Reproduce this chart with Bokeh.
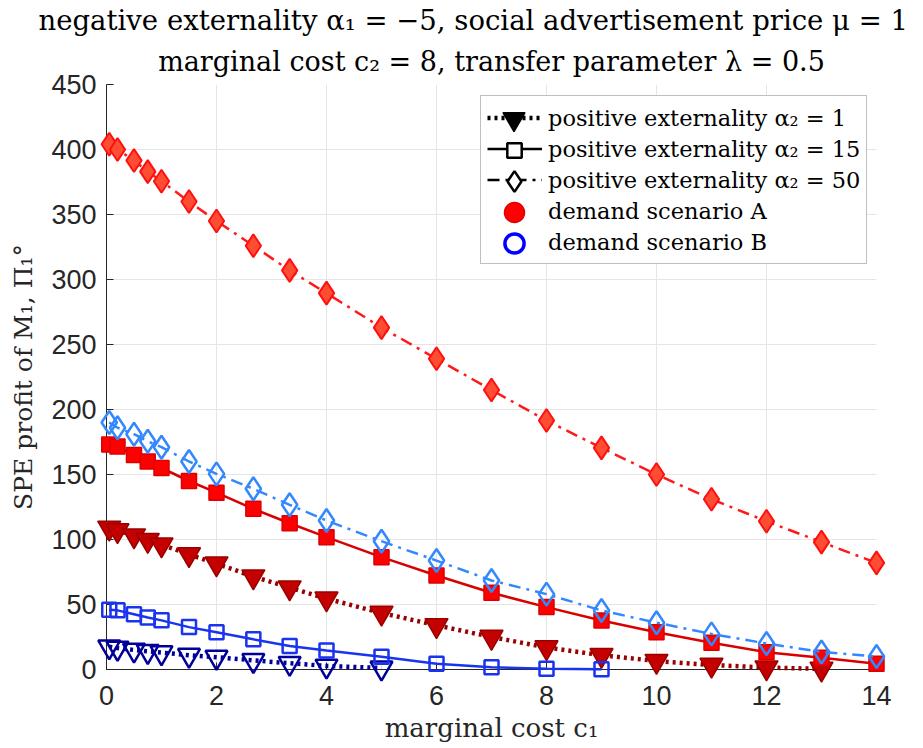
import numpy as np
from bokeh.plotting import figure
from bokeh.models import Legend, LegendItem, FixedTicker, Title, Range1d, ColumnDataSource
from bokeh.embed import file_html
from bokeh.resources import INLINE

# ---------------- data ----------------
c1 = [0.05, 0.2, 0.5, 0.75, 1, 1.5, 2, 2.67, 3.33, 4, 5, 6, 7, 8, 9, 10, 11, 12, 13, 14]

# demand scenario A
A_alpha1 = [109, 107, 103, 99.5, 96, 88.5, 81.5, 71.5, 63, 54.5, 43.5, 34, 25, 17, 11, 6.5, 3.5, 1.5, 0.5]
A_alpha15 = [173, 171.5, 165, 160, 155, 145, 136, 123.6, 112.5, 101.8, 86.4, 72.3, 59, 48, 37.7, 28.7,
             20.5, 13.3, 9, 4.4]
A_alpha50 = [404, 400, 391.5, 383, 375.6, 360, 345, 326, 307, 289.5, 263, 239, 215, 191.5, 170.5, 150,
             131, 114, 98, 82]
# demand scenario B
B_alpha1 = [17.5, 16.5, 15, 14, 13, 11, 9.5, 7, 4.8, 2.7, 1.2]
B_alpha15 = [46, 45.5, 42.5, 40, 37.8, 32.6, 28.7, 23.2, 18, 14.6, 9.8, 4.4, 1.8, 0.5, 0.1]
B_alpha50 = [190, 186, 181, 175.6, 171, 160, 150.5, 139, 126.7, 114.6, 98.7, 83.8, 68.5, 58, 45.4, 36,
             27.4, 20, 13.5, 10]

x_ticks = [0, 2, 4, 6, 8, 10, 12, 14]
y_ticks = [0, 50, 100, 150, 200, 250, 300, 350, 400, 450]

title_line1 = "negative externality α₁ = −5, social advertisement price μ = 1"
title_line2 = "marginal cost c₂ = 8, transfer parameter λ = 0.5"
x_label = "marginal cost c₁"
y_label = "SPE profit of M₁, Π₁°"
legend_labels = ["positive externality α₂ = 1", "positive externality α₂ = 15",
                 "positive externality α₂ = 50", "demand scenario A", "demand scenario B"]

SERIF = "DejaVu Serif"
SANS = "Liberation Sans"
AX = "#262626"

FRAME_W, FRAME_H = 770, 585
p = figure(width=920, height=746, x_range=Range1d(0, 14), y_range=Range1d(0, 450),
           output_backend="svg", toolbar_location=None,
           min_border_left=106, min_border_right=44, min_border_top=84, min_border_bottom=77,
           title=title_line1)
p.outline_line_color = None
p.background_fill_color = "white"

# outer title line
p.title.align = "left"
p.title.offset = -68
p.title.text_font = SERIF
p.title.text_font_size = "27.5px"
p.title.text_font_style = "normal"
p.title.text_color = "black"
p.title.standoff = 0

# inner title line (closer to the frame)
t2 = Title(text=title_line2, align="center", text_font=SERIF, text_font_size="27px",
           text_font_style="normal", text_color="black", standoff=16)
p.add_layout(t2, "above")

# axes
for ax in (p.xaxis, p.yaxis):
    ax.axis_line_color = AX
    ax.axis_line_width = 1
    ax.major_tick_line_color = AX
    ax.major_tick_in = 7
    ax.major_tick_out = 0
    ax.minor_tick_line_color = None
    ax.major_label_text_font = SANS
    ax.major_label_text_font_size = "27px"
    ax.major_label_text_color = AX
    ax.axis_label_text_font = SERIF
    ax.axis_label_text_font_style = "normal"
    ax.axis_label_text_color = AX

p.xaxis.axis_label_text_font_size = "26px"
p.yaxis.axis_label_text_font_size = "25px"
p.xaxis.major_label_text_line_height = 0.9
p.xaxis.axis_label_text_line_height = 0.9
p.xaxis.ticker = FixedTicker(ticks=x_ticks)
p.yaxis.ticker = FixedTicker(ticks=y_ticks)
p.xaxis.axis_label = x_label
p.yaxis.axis_label = y_label
p.xaxis.major_label_standoff = 16
p.xaxis.axis_label_standoff = 5
p.yaxis.major_label_standoff = 10
p.yaxis.axis_label_standoff = 10

p.xgrid.ticker = FixedTicker(ticks=x_ticks)
p.ygrid.ticker = FixedTicker(ticks=y_ticks)
p.grid.grid_line_color = "#E5E5E5"
p.grid.grid_line_width = 1

DOT = "3 4"
DASHDOT = "12 6 3 6"


def series(xs, ys, line_color, dash, lw, marker, size, fill, edge, mlw):
    src = ColumnDataSource(dict(x=xs, y=ys))
    r1 = p.line("x", "y", source=src, line_color=line_color, line_width=lw, line_dash=dash, level="overlay")
    r2 = p.scatter("x", "y", source=src, marker=marker, size=size, fill_color=fill,
                   line_color=edge, line_width=mlw, level="overlay")
    return r1, r2


# draw order: per alpha2, A then B
series(c1[:len(A_alpha1)], A_alpha1, "#990000", DOT, 4.5, "inverted_triangle", 23, "#C40000", "#990000", 1.5)
series(c1[:len(B_alpha1)], B_alpha1, "#000099", DOT, 4.5, "inverted_triangle", 22, None, "#000099", 2.5)
series(c1[:len(A_alpha15)], A_alpha15, "#D90000", "solid", 2.5, "square", 15, "#FF0000", "#DD0000", 1.5)
series(c1[:len(B_alpha15)], B_alpha15, "#1A33EE", "solid", 2.5, "square", 14, None, "#1A33EE", 2.5)
series(c1[:len(A_alpha50)], A_alpha50, "#FF1A1A", DASHDOT, 2.5, "diamond", 23, "#FF4D33", "#FF1010", 2)
series(c1[:len(B_alpha50)], B_alpha50, "#3388FF", DASHDOT, 2.5, "diamond", 23, None, "#3388FF", 2.5)


# ---------------- legend ----------------
def proxy():
    # a single NaN point: never visible in the plot, only used for legend glyphs
    return ColumnDataSource(dict(x=[np.nan], y=[np.nan]))


l1 = p.line("x", "y", source=proxy(), line_color="black", line_width=4.5, line_dash=DOT)
l2 = p.line("x", "y", source=proxy(), line_color="black", line_width=2.5)
l3 = p.line("x", "y", source=proxy(), line_color="black", line_width=2.5, line_dash=DASHDOT)
blank = p.scatter("x", "y", source=proxy(), marker="circle", size=1, fill_alpha=0, line_alpha=0)

# main legend box (texts + line samples)
LEG_LEFT, LEG_TOP, ROW, PAD, GW = 374, 13, 31, 6, 55
leg_h = 5 * ROW + 2 * PAD
items = [LegendItem(label=legend_labels[0], renderers=[l1]),
         LegendItem(label=legend_labels[1], renderers=[l2]),
         LegendItem(label=legend_labels[2], renderers=[l3]),
         LegendItem(label=legend_labels[3], renderers=[blank]),
         LegendItem(label=legend_labels[4], renderers=[blank])]
legend = Legend(items=items, location=(LEG_LEFT, FRAME_H - LEG_TOP - leg_h))
legend.label_text_font = SERIF
legend.label_text_font_size = "22.5px"
legend.label_text_color = "black"
legend.glyph_width = GW
legend.glyph_height = ROW
legend.label_height = ROW
legend.spacing = 0
legend.padding = PAD
legend.margin = 0
legend.label_standoff = 6
legend.border_line_color = "#7F7F7F"
legend.border_line_width = 1
legend.background_fill_color = "white"
legend.background_fill_alpha = 1
p.add_layout(legend)

# larger legend markers, one small borderless legend per row, centred on the row's glyph slot
m1 = p.scatter("x", "y", source=proxy(), marker="inverted_triangle", fill_color="black",
               line_color="black", line_width=1.5)
m2 = p.scatter("x", "y", source=proxy(), marker="square", fill_color="white", line_color="black",
               line_width=2.5)
m3 = p.scatter("x", "y", source=proxy(), marker="diamond", fill_color="white", line_color="black",
               line_width=2.5)
m4 = p.scatter("x", "y", source=proxy(), marker="circle", fill_color="#FF0000", line_color="#E00000",
               line_width=1.5)
m5 = p.scatter("x", "y", source=proxy(), marker="circle", fill_color=None, line_color="#0000FF",
               line_width=3.5)

cx = LEG_LEFT + PAD + GW / 2
for i, (rend, g) in enumerate([(m1, 55), (m2, 36), (m3, 52), (m4, 50), (m5, 48)]):
    cy = FRAME_H - LEG_TOP - PAD - ROW / 2 - ROW * i
    mini = Legend(items=[LegendItem(label="", renderers=[rend])],
                  location=(cx - g / 2, cy - g / 2))
    mini.glyph_width = g
    mini.glyph_height = g
    mini.label_height = g
    mini.label_width = 0
    mini.label_standoff = 0
    mini.padding = 0
    mini.margin = 0
    mini.spacing = 0
    mini.border_line_color = None
    mini.background_fill_alpha = 0
    mini.label_text_font_size = "1px"
    p.add_layout(mini)

open("out.html", "w").write(file_html(p, INLINE))
